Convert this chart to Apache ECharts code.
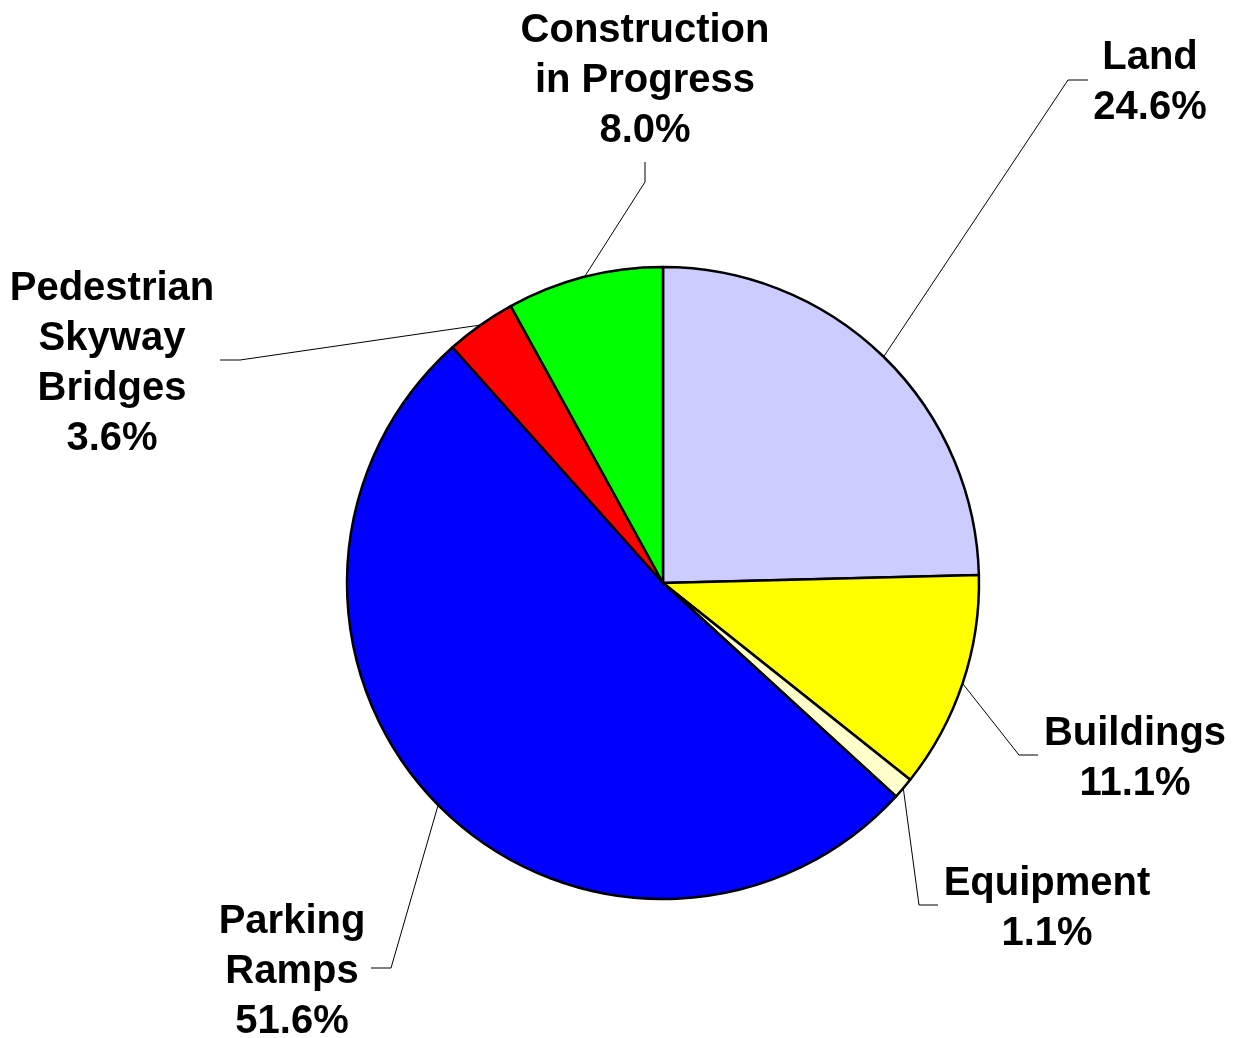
<!DOCTYPE html>
<html>
<head>
<meta charset="utf-8">
<script src="https://cdn.jsdelivr.net/npm/echarts@6/dist/echarts.min.js"></script>
<style>
  html, body { margin: 0; padding: 0; background: #fff; }
  #chart { width: 1233px; height: 1038px; }
</style>
</head>
<body>
<div id="chart"></div>
<script>
const categories = ['Land', 'Buildings', 'Equipment', 'Parking\nRamps', 'Pedestrian\nSkyway\nBridges', 'Construction\nin Progress'];
const shares = [24.6, 11.1, 1.1, 51.6, 3.6, 8.0];
const colors = ['#CCCCFF', '#FFFF00', '#FFFFCC', '#0000FF', '#FF0000', '#00FF00'];

// label anchor (centre of text block) and the knee / end of each leader line
const labelPos = [
  { x: 1150, y: 83, knee: [1068, 80], end: [1088, 80] },
  { x: 1135, y: 759, knee: [1019, 755], end: [1038, 755] },
  { x: 1047, y: 909, knee: [919, 905], end: [938, 905] },
  { x: 292, y: 972, knee: [391, 968], end: [371, 968] },
  { x: 112, y: 364, knee: [240, 360], end: [220, 360] },
  { x: 645, y: 81, knee: [645, 182], end: [645, 162] }
];

const chart = echarts.init(document.getElementById('chart'));

const cx = 663;
const cy = 583;
const radius = 316;

function edgePoint(i) {
  // mid-angle of slice i on the pie rim (clockwise from 12 o'clock)
  let before = 0;
  for (let k = 0; k < i; k++) before += shares[k];
  const total = shares.reduce((a, b) => a + b, 0);
  const a = (90 - ((before + shares[i] / 2) / total) * 360) * Math.PI / 180;
  return [cx + radius * Math.cos(a), cy - radius * Math.sin(a)];
}

chart.setOption({
  animation: false,
  series: [
    {
      type: 'pie',
      center: [cx, cy],
      radius: radius,
      startAngle: 90,
      clockwise: true,
      avoidLabelOverlap: false,
      data: categories.map((name, i) => ({
        name: name,
        value: shares[i],
        itemStyle: { color: colors[i] }
      })),
      itemStyle: {
        borderColor: '#000',
        borderWidth: 2.5
      },
      label: {
        show: true,
        position: 'outside',
        color: '#000',
        fontFamily: '"Liberation Sans", Arial, sans-serif',
        fontWeight: 'bold',
        fontSize: 40,
        lineHeight: 50,
        align: 'center',
        formatter: (p) => p.name + '\n' + p.value.toFixed(1) + '%'
      },
      labelLine: {
        show: true,
        lineStyle: { color: '#000', width: 1 }
      },
      labelLayout: (params) => {
        const pos = labelPos[params.dataIndex];
        return {
          x: pos.x,
          y: pos.y,
          align: 'center',
          verticalAlign: 'middle',
          labelLinePoints: [edgePoint(params.dataIndex), pos.knee, pos.end]
        };
      }
    }
  ]
});

window.addEventListener('resize', () => {
  chart.resize();
});
</script>
</body>
</html>
